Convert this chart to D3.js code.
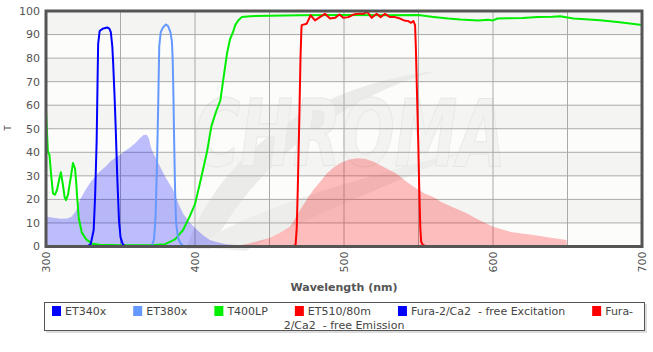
<!DOCTYPE html>
<html>
<head>
<meta charset="utf-8">
<script src="https://cdn.jsdelivr.net/npm/d3@7"></script>
<style>
  body { margin: 0; background: #fff; }
  svg { font-family: "DejaVu Sans", Verdana, sans-serif; }
</style>
</head>
<body>
<div id="chart"></div>
<script>
// spectra, [wavelength nm, T %]
const et340x = [[320,0],[328,0.2],[330,1],[332,7],[333,22],[334,45],[334.6,70],[335,86],[336,91.5],[338,92.5],[341,93],[342.5,92.5],[343.5,91],[344.5,85],[345,79],[346,64],[346.8,50],[347.8,30],[349,11],[350,4],[351.5,1],[353,0.2],[360,0]];
const et380x = [[365,0],[371,0.3],[372.5,3],[373.5,12],[374.5,35],[375.3,60],[376,85],[377,91],[378.5,93],[380.5,94.3],[382,93.5],[383.5,91],[384.5,87],[385,80],[385.5,65],[386,45],[386.6,25],[387.3,10],[388.5,4],[390,1.5],[392,0.3],[400,0]];
const t400lp = [[300,58],[300.7,48],[301.3,40],[302.3,39],[303.5,30],[304.7,22.5],[306,22],[307.4,24],[309,29],[310,31.5],[311.4,26],[312.5,21],[313.4,19.7],[314.8,22],[316,27],[316.8,30],[318.1,35.5],[319.5,33],[320.3,27],[320.8,22],[322,12],[324,6],[327,3],[331,1.2],[336,0.7],[350,0.5],[370,0.5],[380,1],[386.6,3],[392,7],[396.6,13],[400,18],[403,26],[408,40],[411,51],[414,57],[417,62],[419,71],[421.5,82],[423.5,88],[425.5,91],[427,94],[429,96],[431.5,97.5],[437,97.8],[450,98],[470,98.2],[500,98.3],[530,98.2],[550,98.3],[560,97.5],[570,96.8],[578,96.4],[590,96],[597,96.3],[600,96],[603,96.8],[610,96.9],[620,97],[630,97.4],[640,97.6],[645,97.8],[654,96.8],[672,96.1],[685,95.2],[700,94.1]];
const et510 = [[460,0],[465,0.1],[467.5,0.5],[468.3,8],[469,25],[470,54],[470.8,80],[471.4,92],[471.6,94],[474.9,94.6],[476,96],[477.6,98.2],[480.5,96],[483.8,97.4],[487.2,98.8],[490.6,96.8],[494,97.1],[496.9,98.5],[499.5,97.1],[502.9,97.4],[506.3,98.5],[509.6,98.8],[513,98.8],[515.6,99.6],[518.6,97.1],[521.9,98.8],[524.6,97.4],[527.5,98.8],[530.9,97.4],[534.2,97.4],[537.6,96.8],[540.3,96],[543.2,95.7],[544.8,95],[546.6,95.7],[547.7,94],[548.2,85],[549,65],[549.8,45],[550.5,25],[551.2,8],[551.8,2],[553,0.5],[556,0],[560,0]];
const furaEx = [[300,12.7],[305,12.2],[310,11.8],[314,11.9],[317,12.5],[320,15],[322.8,19.8],[326,23.5],[329.5,27],[333,29.8],[336.2,31.8],[340,34],[343,36],[346,37.5],[349.7,39],[353,40.5],[356.4,42],[360,44],[363,46],[365.5,47.3],[367.6,47.5],[369,46],[370.5,42],[372.5,39],[374.3,36.8],[379.9,29.7],[385.4,24],[389,18],[392,14],[396,10.5],[400,7.9],[405,5],[410,2.8],[415,1.8],[421,1],[430,0.5],[440,0.2],[445,0]];
const furaEm = [[420,0],[430,0.5],[437,1.4],[445,2.8],[450,3.6],[457,5.8],[463.8,8.4],[470.5,15.5],[475,20],[479.4,24],[484,27.5],[488.4,31],[493,33.5],[497.3,35.4],[503,36.8],[508.5,37.5],[514,37.3],[519.7,36.1],[526,34],[535,31],[542,27.5],[548.8,24.5],[554,22.5],[560,21],[565,19],[572,17],[582.3,14.1],[590,11.5],[600.2,8.4],[612,6.2],[627,4.9],[640,3.6],[649.4,2.8],[649.6,0]];

const xTicks = [300, 400, 500, 600, 700];
const yTicks = [0, 10, 20, 30, 40, 50, 60, 70, 80, 90, 100];
const legendNames = ["ET340x", "ET380x", "T400LP", "ET510/80m", "Fura-2/Ca2  - free Excitation", "Fura-2/Ca2  - free Emission"];
const legendColors = ["#0000ff", "#6699ff", "#00ee00", "#ff0000", "#0000ff", "#ff0000"];

const W = 653, H = 352;
const margin = { top: 11, right: 11, bottom: 105.5, left: 46 };
const width = W - margin.left - margin.right;
const height = H - margin.top - margin.bottom;

const svg = d3.select("#chart").append("svg")
  .attr("width", W)
  .attr("height", H);

const x = d3.scaleLinear().domain([300, 700]).range([0, width]);
const y = d3.scaleLinear().domain([0, 100]).range([height, 0]);

const g = svg.append("g")
  .attr("transform", `translate(${margin.left},${margin.top})`);

// alternating bands
const bands = d3.range(0, 100, 10);
g.selectAll(".band").data(bands).enter().append("rect")
  .attr("x", 0)
  .attr("width", width)
  .attr("y", d => y(d + 10))
  .attr("height", d => y(d) - y(d + 10))
  .attr("fill", d => (d / 10) % 2 === 1 ? "#f4f5f3" : "#fcfdfb");

// watermark
const wm = g.append("g").attr("opacity", 0.85);
wm.append("path")
  .attr("d", "M140,238 C170,150 260,75 390,60 C300,85 210,150 165,238 Z")
  .attr("fill", "#e9e9e7");
wm.append("path")
  .attr("d", "M150,236 C200,200 300,170 420,140 C330,180 240,215 200,240 Z")
  .attr("fill", "#ececea");
wm.append("text")
  .attr("x", 148)
  .attr("y", 155)
  .attr("font-size", 92)
  .attr("font-weight", "bold")
  .attr("font-style", "italic")
  .attr("textLength", 312)
  .attr("lengthAdjust", "spacingAndGlyphs")
  .attr("fill", "#f2f2f0")
  .attr("stroke", "#e4e4e2")
  .attr("stroke-width", 1)
  .text("CHROMA");

// grid
g.append("g").selectAll("line").data(d3.range(300, 701, 50)).enter().append("line")
  .attr("x1", d => x(d)).attr("x2", d => x(d))
  .attr("y1", 0).attr("y2", height)
  .attr("stroke", "#aaaaaa").attr("stroke-width", 1);
g.append("g").selectAll("line").data(yTicks).enter().append("line")
  .attr("x1", 0).attr("x2", width)
  .attr("y1", d => y(d)).attr("y2", d => y(d))
  .attr("stroke", "#aaaaaa").attr("stroke-width", 1);

// areas
const area = d3.area().x(d => x(d[0])).y0(y(0)).y1(d => y(d[1]));
g.append("path").datum(furaEx).attr("d", area)
  .attr("fill", "#0000ff").attr("fill-opacity", 0.25);
g.append("path").datum(furaEm).attr("d", area)
  .attr("fill", "#ff0000").attr("fill-opacity", 0.25);

// lines
const line = d3.line().x(d => x(d[0])).y(d => y(d[1]));
const series = [[t400lp, "#00ee00"], [et340x, "#0000ff"], [et380x, "#6699ff"], [et510, "#ff0000"]];
series.forEach(([data, color]) => {
  g.append("path").datum(data).attr("d", line)
    .attr("fill", "none")
    .attr("stroke", color)
    .attr("stroke-width", 2)
    .attr("stroke-linejoin", "round");
});

// frame
g.append("rect")
  .attr("x", 0).attr("y", 0)
  .attr("width", width).attr("height", height)
  .attr("fill", "none")
  .attr("stroke", "#555555")
  .attr("stroke-width", 3);

// y labels
g.append("g").selectAll("text").data(yTicks).enter().append("text")
  .attr("x", -6)
  .attr("y", d => y(d))
  .attr("dy", "0.35em")
  .attr("text-anchor", "end")
  .attr("font-size", "11px")
  .attr("fill", "#555")
  .text(d => d);

// x labels
g.append("g").selectAll("text").data(xTicks).enter().append("text")
  .attr("transform", d => `translate(${x(d)},${height + 5}) rotate(-90)`)
  .attr("dy", "0.35em")
  .attr("text-anchor", "end")
  .attr("font-size", "11px")
  .attr("fill", "#555")
  .text(d => d);

g.append("text")
  .attr("x", width / 2)
  .attr("y", height + 44)
  .attr("text-anchor", "middle")
  .attr("font-size", "11px")
  .attr("font-weight", "bold")
  .attr("fill", "#555")
  .text("Wavelength (nm)");

svg.append("text")
  .attr("transform", "translate(8,128) rotate(-90)")
  .attr("dy", "0.35em")
  .attr("text-anchor", "middle")
  .attr("font-size", "9px")
  .attr("fill", "#555")
  .text("T");

// legend
const lg = svg.append("g");
lg.append("rect")
  .attr("x", 46).attr("y", 304).attr("width", 601).attr("height", 29)
  .attr("fill", "#bbb").attr("opacity", 0.5);
lg.append("rect")
  .attr("x", 44.5).attr("y", 302.5).attr("width", 600).attr("height", 28)
  .attr("fill", "#fff").attr("stroke", "#555").attr("stroke-width", 1);

let lx = 52;
legendNames.forEach((name, i) => {
  const item = lg.append("g");
  item.append("rect")
    .attr("x", lx).attr("y", 306).attr("width", 9).attr("height", 10)
    .attr("fill", legendColors[i]);
  const t = item.append("text")
    .attr("x", lx + 13).attr("y", 315)
    .attr("font-size", "11px")
    .attr("fill", "#444")
    .attr("xml:space", "preserve");
  if (i === legendNames.length - 1) {
    t.text("Fura-");
    lg.append("text")
      .attr("x", 344).attr("y", 329)
      .attr("text-anchor", "middle")
      .attr("font-size", "11px")
      .attr("fill", "#444")
      .attr("xml:space", "preserve")
      .text("2/Ca2  - free Emission");
  } else {
    t.text(name);
  }
  lx += 13 + t.node().getComputedTextLength() + 27;
});
</script>
</body>
</html>
